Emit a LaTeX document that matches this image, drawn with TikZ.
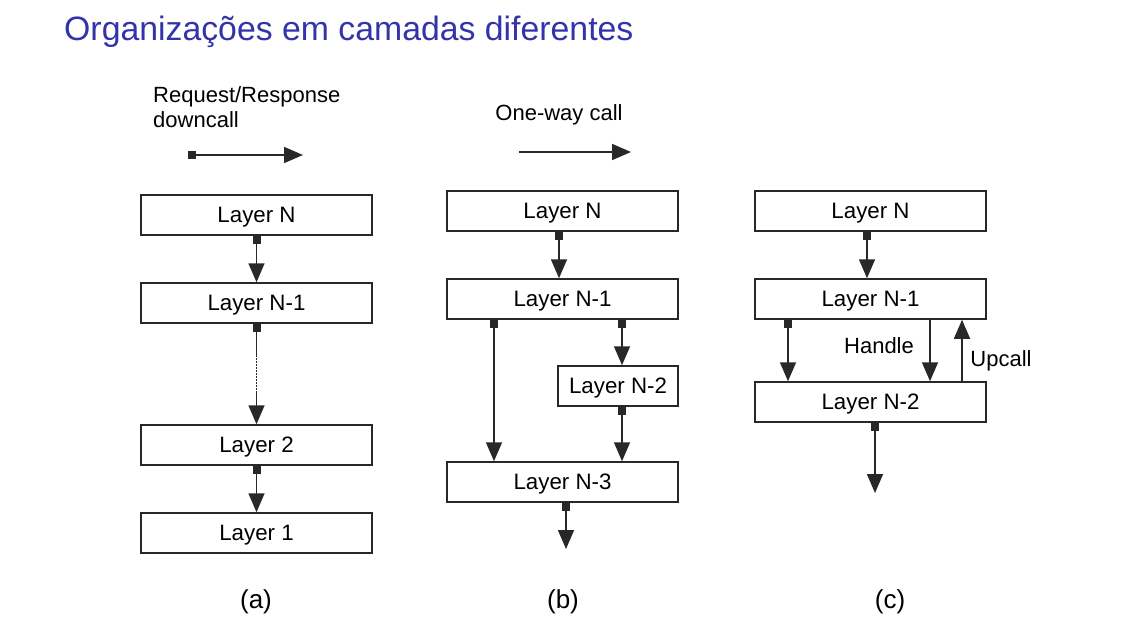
\documentclass[tikz,border=0pt]{standalone}
\usepackage{fontspec}
\setmainfont{Liberation Sans}
\usetikzlibrary{arrows.meta}
\definecolor{ink}{RGB}{40,40,40}
\definecolor{titleblue}{RGB}{51,51,170}
\begin{document}
\begin{tikzpicture}[x=1pt,y=-1pt,
  layerbox/.style={draw=ink,line width=1.5pt,minimum width=231pt,minimum height=40pt,
    inner sep=0pt,text depth=0pt,font=\fontsize{22.3}{24}\selectfont},
  smallbox/.style={layerbox,minimum width=120pt},
  link/.style={draw=ink,line width=1.6pt},
  call/.style={link,-{Triangle[length=19pt,width=16pt]}},
  downcall/.style={link,{Square[length=8pt,width=8pt]}-{Triangle[length=19pt,width=16pt]}},
  plain/.style={font=\fontsize{22}{25}\selectfont,inner sep=0pt},
  caption/.style={font=\fontsize{26}{30}\selectfont,inner sep=0pt}]
\useasboundingbox (0,0) rectangle (1139,642);

% title
\node[anchor=west,inner sep=0pt,text=titleblue,font=\fontsize{33.8}{38}\selectfont] (title) at (64,32) {Organizações em camadas diferentes};

% legend
\node[plain,anchor=west,align=left] (legA) at (153,107.5) {Request/Response\\downcall};
\coordinate (la0) at (188,155);
\coordinate (la1) at (303,155);
\draw[downcall] (la0) -- (la1);
\node[plain] (legB) at (559,115) {One-way call};
\coordinate (lb0) at (519,152);
\coordinate (lb1) at (631,152);
\draw[call] (lb0) -- (lb1);

% (a) request/response stack
\node[layerbox] (a1) at (256.5,215) {Layer N};
\node[layerbox] (a2) at (256.5,303) {Layer N-1};
\node[layerbox] (a3) at (256.5,445) {Layer 2};
\node[layerbox] (a4) at (256.5,533) {Layer 1};
\draw[downcall] (a1.south) -- (a2.north);
\coordinate (ad0) at (256.5,355);
\coordinate (ad1) at (256.5,392);
\draw[link,{Square[length=8pt,width=8pt]}-] (a2.south) -- (ad0);
\draw[link,line width=1.1pt,dash pattern=on 1.5pt off 1.5pt] (ad0) -- (ad1);
\draw[call] (ad1) -- (a3.north);
\draw[downcall] (a3.south) -- (a4.north);
\node[caption] (capA) at (256,602) {(a)};

% (b) one-way calls
\node[layerbox] (b1) at (562.5,211) {Layer N};
\node[layerbox] (b2) at (562.5,299) {Layer N-1};
\node[smallbox] (b3) at (618,386) {Layer N-2};
\node[layerbox] (b4) at (562.5,482) {Layer N-3};
\draw[downcall] ([xshift=-3.5pt]b1.south) -- ([xshift=-3.5pt]b2.north);
\draw[downcall] ([xshift=-68.5pt]b2.south) -- ([xshift=-68.5pt]b4.north);
\draw[downcall] ([xshift=59.5pt]b2.south) -- ([xshift=4pt]b3.north);
\draw[downcall] ([xshift=4pt]b3.south) -- ([xshift=59.5pt]b4.north);
\coordinate (bout) at (566,549);
\draw[downcall] ([xshift=3.5pt]b4.south) -- (bout);
\node[caption] (capB) at (563,602) {(b)};

% (c) upcalls
\node[layerbox] (c1) at (870.5,211) {Layer N};
\node[layerbox] (c2) at (870.5,299) {Layer N-1};
\node[layerbox] (c3) at (870.5,402) {Layer N-2};
\draw[downcall] ([xshift=-3.5pt]c1.south) -- ([xshift=-3.5pt]c2.north);
\draw[downcall] ([xshift=-82.5pt]c2.south) -- ([xshift=-82.5pt]c3.north);
\draw[call] ([xshift=59.5pt]c2.south) -- ([xshift=59.5pt]c3.north);
\draw[call] ([xshift=91.5pt]c3.north) -- ([xshift=91.5pt]c2.south);
\node[plain] (handle) at (879,346) {Handle};
\node[plain] (upcall) at (1001,361) {Upcall};
\coordinate (cout) at (875,493);
\draw[downcall] ([xshift=4.5pt]c3.south) -- (cout);
\node[caption] (capC) at (890,602) {(c)};
\end{tikzpicture}
\end{document}
